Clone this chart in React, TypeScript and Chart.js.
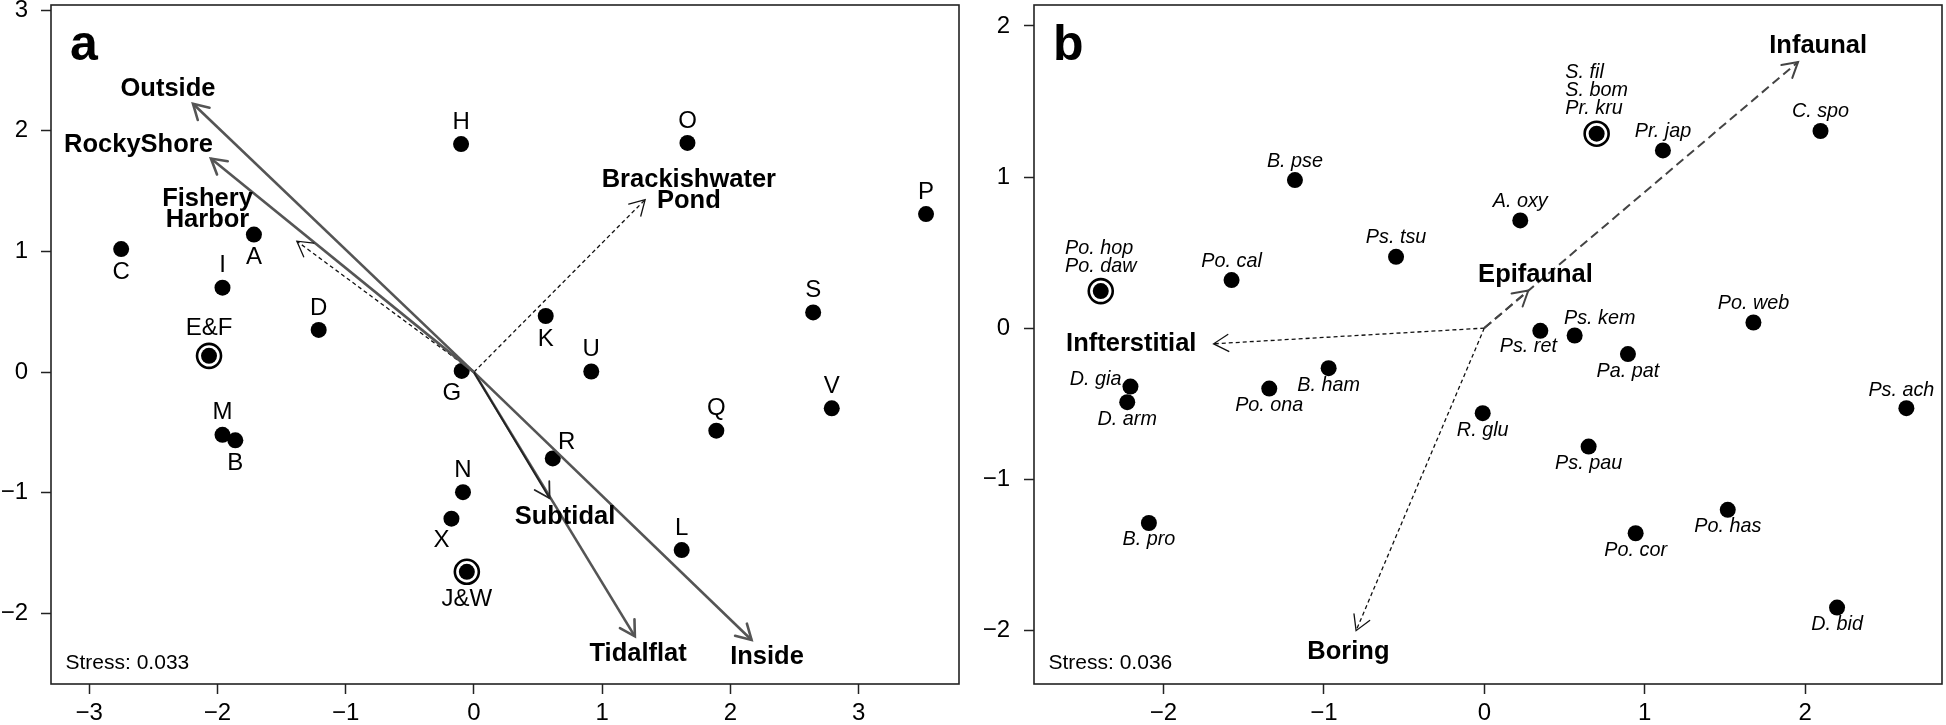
import React, { useEffect, useRef } from "react";
import { Chart, registerables } from "chart.js";
Chart.register(...registerables);

const FONT = '"Liberation Sans", Arial, Helvetica, sans-serif';

// ---------------- Panel a : sites ----------------
const siteNames = ["H", "C", "A", "I", "D", "E&F", "G", "M", "B", "N", "X", "J&W", "O", "P", "S", "K", "U", "V", "Q", "R", "L"];
const siteX = [-0.1, -2.75, -1.715, -1.96, -1.21, -2.065, -0.095, -1.96, -1.86, -0.085, -0.175, -0.055, 1.665, 3.525, 2.645, 0.56, 0.915, 2.79, 1.89, 0.615, 1.62];
const siteY = [1.89, 1.02, 1.14, 0.7, 0.35, 0.135, 0.01, -0.52, -0.565, -0.995, -1.215, -1.655, 1.9, 1.31, 0.495, 0.465, 0.005, -0.3, -0.485, -0.715, -1.475];
const siteCircled = ["E&F", "J&W"];
const siteLabelPlace = ["above", "below", "below", "above", "above", "above", "belowLeft", "above", "below", "above", "belowLeft", "below", "above", "above", "above", "below", "above", "above", "above", "aboveRight", "above"];

const envNamesA = ["Outside", "RockyShore", "Fishery\nHarbor", "Brackishwater\nPond", "Subtidal", "Tidalflat", "Inside"];
const envXA = [-2.19, -2.05, -1.38, 1.335, 0.59, 1.255, 2.165];
const envYA = [2.225, 1.77, 1.085, 1.43, -1.045, -2.19, -2.22];
const envLabelXA = [-2.385, -2.615, -2.077, 1.676, 0.71, 1.28, 2.285];
const envLabelYA = [2.35, 1.88, 1.35, 1.505, -1.197, -2.34, -2.36];
const envStyleA = ["thick", "thick", "dotted", "dotted", "thin", "thick", "thick"];

const ticksAX = [-3, -2, -1, 0, 1, 2, 3];
const ticksAY = [-2, -1, 0, 1, 2, 3];
const limitsA = [-3.297, 3.782, -2.585, 3.043];

// ---------------- Panel b : species ----------------
const speciesNames = ["B. pse", "Po. hop\nPo. daw", "Po. cal", "Ps. tsu", "B. ham", "Po. ona", "D. gia", "D. arm", "B. pro", "S. fil\nS. bom\nPr. kru", "Pr. jap", "C. spo", "A. oxy", "Po. web", "Ps. ret", "Ps. kem", "Pa. pat", "R. glu", "Ps. pau", "Po. has", "Po. cor", "D. bid", "Ps. ach"];
const speciesX = [-1.18, -2.39, -1.575, -0.55, -0.97, -1.34, -2.205, -2.225, -2.09, 0.7, 1.113, 2.095, 0.224, 1.677, 0.349, 0.563, 0.895, -0.01, 0.65, 1.517, 0.943, 2.198, 2.63];
const speciesY = [0.98, 0.245, 0.318, 0.472, -0.265, -0.4, -0.387, -0.49, -1.29, 1.287, 1.176, 1.305, 0.713, 0.037, -0.018, -0.049, -0.172, -0.563, -0.784, -1.203, -1.358, -1.85, -0.53];
const speciesCircled = ["Po. hop\nPo. daw", "S. fil\nS. bom\nPr. kru"];
const speciesLabelPlace = ["above", "stack", "above", "above", "below", "below", "left", "below", "below", "stack", "above", "above", "above", "above", "belowLeft", "aboveRight", "below", "below", "below", "below", "below", "below", "aboveLeft"];

const envNamesB = ["Infaunal", "Epifaunal", "Infterstitial", "Boring"];
const envXB = [1.955, 0.274, -1.687, -0.799];
const envYB = [1.762, 0.249, -0.104, -2.003];
const envLabelXB = [2.08, 0.319, -2.2, -0.847];
const envLabelYB = [1.865, 0.353, -0.106, -2.142];
const envStyleB = ["longdash", "longdash", "dotted", "dotted"];

const ticksBX = [-2, -1, 0, 1, 2];
const ticksBY = [-2, -1, 0, 1, 2];
const limitsB = [-2.806, 2.852, -2.356, 2.139];

// ---------------- styles ----------------
const arrowStyles: Record<string, { color: string; width: number; dash: number[] }> = {
  thick: { color: "#555555", width: 2.6, dash: [] },
  thin: { color: "#222222", width: 1.8, dash: [] },
  dotted: { color: "#111111", width: 1.3, dash: [4, 3] },
  longdash: { color: "#444444", width: 2, dash: [9, 5] },
};

type PanelSpec = {
  letter: string;
  stress: string;
  names: string[];
  xs: number[];
  ys: number[];
  circled: string[];
  place: string[];
  labelFont: string;
  offsets: Record<string, [number, number]>;
  circledExtra: number;
  envNames: string[];
  envX: number[];
  envY: number[];
  envLX: number[];
  envLY: number[];
  envStyle: string[];
  ticksX: number[];
  ticksY: number[];
  limits: number[];
  yAxisWidth: number;
  padRight: number;
  yPad: number;
};

const fmt = (v: number) => (v < 0 ? "\u2212" + Math.abs(v) : String(v));

function makeConfig(p: PanelSpec): any {
  const datasets: any[] = [];
  p.envNames.forEach((n, i) => {
    const st = arrowStyles[p.envStyle[i]];
    datasets.push({
      label: n,
      data: [
        { x: 0, y: 0 },
        { x: p.envX[i], y: p.envY[i] },
      ],
      showLine: true,
      borderColor: st.color,
      borderWidth: st.width,
      borderDash: st.dash,
      pointRadius: 0,
      order: 0,
      isArrow: true,
      clip: false,
    });
  });
  datasets.push({
    label: "points",
    data: p.xs.map((x, i) => ({ x, y: p.ys[i] })),
    pointRadius: 8,
    backgroundColor: "#000",
    borderWidth: 0,
    order: 1,
  });
  datasets.push({
    label: "rings",
    data: p.names
      .map((n, i) => ({ n, x: p.xs[i], y: p.ys[i] }))
      .filter((d) => p.circled.includes(d.n))
      .map((d) => ({ x: d.x, y: d.y })),
    pointRadius: 12,
    backgroundColor: "#fff",
    borderColor: "#000",
    borderWidth: 2.6,
    order: 2,
  });

  const plugin = {
    id: "panelDeco",
    afterDatasetsDraw(chart: any) {
      const { ctx, chartArea } = chart;
      const sx = chart.scales.x;
      const sy = chart.scales.y;
      ctx.save();
      // arrow heads
      chart.data.datasets.forEach((ds: any, i: number) => {
        if (!ds.isArrow) return;
        const meta = chart.getDatasetMeta(i);
        const a = meta.data[0];
        const b = meta.data[1];
        const ang = Math.atan2(b.y - a.y, b.x - a.x);
        const L = 17;
        ctx.setLineDash([]);
        ctx.strokeStyle = ds.borderColor;
        ctx.lineWidth = ds.borderWidth;
        ctx.lineCap = "round";
        ctx.beginPath();
        ctx.moveTo(b.x - L * Math.cos(ang - Math.PI / 6), b.y - L * Math.sin(ang - Math.PI / 6));
        ctx.lineTo(b.x, b.y);
        ctx.lineTo(b.x - L * Math.cos(ang + Math.PI / 6), b.y - L * Math.sin(ang + Math.PI / 6));
        ctx.stroke();
      });
      // point labels
      ctx.fillStyle = "#000";
      ctx.font = p.labelFont;
      ctx.textBaseline = "middle";
      p.names.forEach((n, i) => {
        const px = sx.getPixelForValue(p.xs[i]);
        const py = sy.getPixelForValue(p.ys[i]);
        const place = p.place[i];
        const circ = p.circled.includes(n);
        if (place === "stack") {
          const lines = n.split("\n");
          const w = Math.max(...lines.map((l) => ctx.measureText(l).width));
          ctx.textAlign = "left";
          const lh = 18;
          lines.forEach((l, k) => {
            ctx.fillText(l, px - w / 2, py - 25 - (lines.length - 1 - k) * lh);
          });
          return;
        }
        const off = p.offsets[place];
        let dy = off[1];
        if (circ) dy += dy < 0 ? -p.circledExtra : p.circledExtra;
        ctx.textAlign = place === "left" ? "right" : "center";
        ctx.fillText(n, px + off[0], py + dy);
      });
      // env labels
      ctx.font = "bold 25.5px " + FONT;
      ctx.textAlign = "center";
      p.envNames.forEach((n, i) => {
        const px = sx.getPixelForValue(p.envLX[i]);
        const py = sy.getPixelForValue(p.envLY[i]);
        const lines = n.split("\n");
        const lh = 21.5;
        lines.forEach((l, k) => {
          ctx.fillText(l, px, py + (k - (lines.length - 1) / 2) * lh);
        });
      });
      // panel letter
      ctx.textAlign = "left";
      ctx.textBaseline = "alphabetic";
      ctx.font = "bold 50px " + FONT;
      ctx.fillText(p.letter, chartArea.left + 19, chartArea.top + 55);
      // stress
      ctx.font = "21px " + FONT;
      ctx.fillText(p.stress, chartArea.left + 14.5, chartArea.bottom - 15);
      // box
      ctx.strokeStyle = "#222";
      ctx.lineWidth = 1.6;
      ctx.setLineDash([]);
      ctx.strokeRect(chartArea.left, chartArea.top, chartArea.right - chartArea.left, chartArea.bottom - chartArea.top);
      ctx.restore();
    },
  };

  const tickFont = { family: FONT, size: 24 };
  return {
    type: "scatter",
    data: { datasets },
    options: {
      animation: false,
      responsive: false,
      events: [],
      layout: { autoPadding: false, padding: { left: 0, right: p.padRight, top: 5, bottom: 0 } },
      plugins: { legend: { display: false }, tooltip: { enabled: false } },
      scales: {
        x: {
          type: "linear",
          min: p.limits[0],
          max: p.limits[1],
          afterBuildTicks: (s: any) => {
            s.ticks = p.ticksX.map((v) => ({ value: v }));
          },
          afterFit: (s: any) => {
            s.height = 41;
            s.paddingLeft = 0;
            s.paddingRight = 0;
          },
          grid: { drawOnChartArea: false, drawTicks: true, tickLength: 10, tickColor: "#222", tickWidth: 1.5 },
          border: { display: false },
          ticks: { color: "#000", font: tickFont, padding: 5, autoSkip: false, maxRotation: 0, callback: (v: any) => fmt(Number(v)) },
        },
        y: {
          type: "linear",
          min: p.limits[2],
          max: p.limits[3],
          afterBuildTicks: (s: any) => {
            s.ticks = p.ticksY.map((v) => ({ value: v }));
          },
          afterFit: (s: any) => {
            s.width = p.yAxisWidth;
            s.paddingTop = 0;
            s.paddingBottom = 0;
          },
          grid: { drawOnChartArea: false, drawTicks: true, tickLength: 10, tickColor: "#222", tickWidth: 1.5 },
          border: { display: false },
          ticks: { color: "#000", font: tickFont, padding: p.yPad, autoSkip: false, callback: (v: any) => fmt(Number(v)) },
        },
      },
    },
    plugins: [plugin],
  };
}

const panelA: PanelSpec = {
  letter: "a",
  stress: "Stress: 0.033",
  names: siteNames,
  xs: siteX,
  ys: siteY,
  circled: siteCircled,
  place: siteLabelPlace,
  labelFont: "24px " + FONT,
  offsets: { above: [0, -22], below: [0, 23], belowLeft: [-10, 22], aboveRight: [14, -16] },
  circledExtra: 5,
  envNames: envNamesA,
  envX: envXA,
  envY: envYA,
  envLX: envLabelXA,
  envLY: envLabelYA,
  envStyle: envStyleA,
  ticksX: ticksAX,
  ticksY: ticksAY,
  limits: limitsA,
  yAxisWidth: 51,
  padRight: 14,
  yPad: 13,
};

const panelB: PanelSpec = {
  letter: "b",
  stress: "Stress: 0.036",
  names: speciesNames,
  xs: speciesX,
  ys: speciesY,
  circled: speciesCircled,
  place: speciesLabelPlace,
  labelFont: "italic 19.8px " + FONT,
  offsets: { above: [0, -19], below: [0, 17], belowLeft: [-12, 16], aboveRight: [25, -17], aboveLeft: [-5, -18], left: [-9, -7] },
  circledExtra: 0,
  envNames: envNamesB,
  envX: envXB,
  envY: envYB,
  envLX: envLabelXB,
  envLY: envLabelYB,
  envStyle: envStyleB,
  ticksX: ticksBX,
  ticksY: ticksBY,
  limits: limitsB,
  yAxisWidth: 61,
  padRight: 4,
  yPad: 14,
};

function Panel({ spec, left }: { spec: PanelSpec; left: number }) {
  const ref = useRef<HTMLCanvasElement | null>(null);
  useEffect(() => {
    if (!ref.current) return;
    const chart = new Chart(ref.current, makeConfig(spec));
    return () => chart.destroy();
  }, [spec]);
  return (
    <canvas
      ref={ref}
      width={973}
      height={725}
      style={{ position: "absolute", left, top: 0, width: 973, height: 725 }}
    />
  );
}

export default function App() {
  return (
    <div style={{ position: "fixed", left: 0, top: 0, width: 1946, height: 725, background: "#fff" }}>
      <Panel spec={panelA} left={0} />
      <Panel spec={panelB} left={973} />
    </div>
  );
}
